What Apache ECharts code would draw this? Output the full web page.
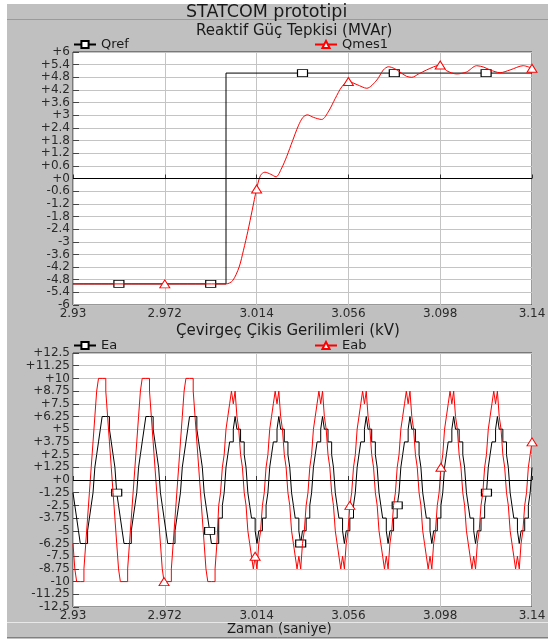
<!DOCTYPE html>
<html><head><meta charset="utf-8">
<script src="https://cdn.jsdelivr.net/npm/echarts@6/dist/echarts.min.js"></script>
<style>html,body{margin:0;padding:0;background:#fff}#c{width:548px;height:639px}</style>
</head><body><div id="c"></div>
<script>
// ---------- data ----------
const xTicks = [2.93, 2.972, 3.014, 3.056, 3.098, 3.14];

// Reaktif Güç Tepkisi (MVAr)
const qrefPoints = [[2.93,-5],[2.951,-5],[2.993,-5],[3.0,-5],[3.0,5],[3.035,5],[3.077,5],[3.119,5],[3.14,5]];
const qrefMarkerTimes = [2.951, 2.993, 3.035, 3.077, 3.119];
const qmesPoints = [
  [2.93,-5],[2.972,-5],[3.0,-5],[3.003,-4.85],[3.006,-4.2],[3.008,-3.4],[3.010,-2.5],[3.012,-1.5],
  [3.014,-0.5],[3.0158,0.15],[3.0178,0.3],[3.0205,0.2],[3.0229,0.08],[3.0255,0.5],[3.0278,1.05],
  [3.0305,1.8],[3.0331,2.5],[3.0352,2.9],[3.0372,3.02],[3.0400,2.9],[3.0438,2.8],[3.0470,3.2],
  [3.0500,3.8],[3.0530,4.35],[3.056,4.6],[3.0600,4.45],[3.0644,4.28],[3.0690,4.67],[3.0720,5.15],
  [3.0743,5.3],[3.0770,5.22],[3.0796,5.05],[3.0825,4.85],[3.0850,4.8],[3.0880,4.95],[3.0918,5.15],
  [3.098,5.38],[3.1010,5.11],[3.1055,4.96],[3.1100,5.05],[3.1147,5.35],[3.1180,5.28],[3.1208,5.15],
  [3.1254,5.02],[3.1300,5.15],[3.1360,5.35],[3.14,5.23]
];
const qmesMarkerTimes = [2.972, 3.014, 3.056, 3.098, 3.14];

// Çevirgeç Çikis Gerilimleri (kV) – staircase samples, 24 per 20 ms cycle starting at 2.93 s
const waveStart = 2.93;
const waveStep = 0.02 / 24;
const eaValues = [
  -1.25,-2.5,-3.75,-5,-6.25,-6.25,-6.25,-6.25,-5,-3.75,-2.5,-1.25,1.25,2.5,3.75,5,6.25,6.25,6.25,6.25,5,3.75,2.5,1.25,
  -1.25,-2.5,-3.75,-5,-6.25,-6.25,-6.25,-6.25,-5,-3.75,-2.5,-1.25,1.25,2.5,3.75,5,6.25,6.25,6.25,6.25,5,3.75,2.5,1.25,
  -1.25,-2.5,-3.75,-5,-6.25,-6.25,-6.25,-6.25,-5,-3.75,-2.5,-1.25,1.25,2.5,3.75,5,6.25,6.25,6.25,6.25,5,3.75,2.5,1.25,
  -1.25,-2.5,-3.75,-5,-6.25,-6.25,-6.25,-6.25,-3.75,-3.75,-2.5,-1.25,1.25,2.5,3.75,3.75,5,6.25,5,5,3.75,3.75,2.5,1.25,
  -1.25,-2.5,-3.75,-3.75,-5,-6.25,-5,-5,-3.75,-3.75,-2.5,-1.25,1.25,2.5,3.75,3.75,5,6.25,5,5,3.75,3.75,2.5,1.25,
  -1.25,-2.5,-3.75,-3.75,-5,-6.25,-5,-5,-3.75,-3.75,-2.5,-1.25,1.25,2.5,3.75,3.75,5,6.25,5,5,3.75,3.75,2.5,1.25,
  -1.25,-2.5,-3.75,-3.75,-5,-6.25,-5,-5,-3.75,-3.75,-2.5,-1.25,1.25,2.5,3.75,3.75,5,6.25,5,5,3.75,3.75,2.5,1.25,
  -1.25,-2.5,-3.75,-3.75,-5,-6.25,-5,-5,-3.75,-3.75,-2.5,-1.25,1.25,2.5,3.75,3.75,5,6.25,5,5,3.75,3.75,2.5,1.25,
  -1.25,-2.5,-3.75,-3.75,-5,-6.25,-5,-5,-3.75,-3.75,-2.5,-1.25,1.25,2.5,3.75,3.75,5,6.25,5,5,3.75,3.75,2.5,1.25,
  -1.25,-2.5,-3.75,-3.75,-5,-6.25,-5,-5,-3.75,-3.75,-2.5,-1.25,1.25,2.5,3.75,3.75,5,6.25,5,5,3.75,3.75,2.5,1.25,
  -1.25,-2.5,-3.75,-3.75,-5,-6.25,-5,-5,-3.75,-3.75,-2.5,-1.25,
  1.25
];
const eabValues = [
  -6.25,-8.75,-10,-10,-10,-10,-8.75,-6.25,-3.75,-1.25,1.25,3.75,6.25,8.75,10,10,10,10,8.75,6.25,3.75,1.25,-1.25,-3.75,
  -6.25,-8.75,-10,-10,-10,-10,-8.75,-6.25,-3.75,-1.25,1.25,3.75,6.25,8.75,10,10,10,10,8.75,6.25,3.75,1.25,-1.25,-3.75,
  -6.25,-8.75,-10,-10,-10,-10,-8.75,-6.25,-3.75,-1.25,1.25,3.75,6.25,8.75,10,10,10,10,8.75,6.25,3.75,1.25,-1.25,-3.75,
  -6.25,-8.75,-10,-10,-10,-10,-8.75,-6.25,-2.5,-1.25,1.25,2.5,5,6.25,7.5,8.75,7.5,8.75,6.25,5,2.5,1.25,-1.25,-2.5,
  -5,-6.25,-7.5,-8.75,-7.5,-8.75,-6.25,-5,-2.5,-1.25,1.25,2.5,5,6.25,7.5,8.75,7.5,8.75,6.25,5,2.5,1.25,-1.25,-2.5,
  -5,-6.25,-7.5,-8.75,-7.5,-8.75,-6.25,-5,-2.5,-1.25,1.25,2.5,5,6.25,7.5,8.75,7.5,8.75,6.25,5,2.5,1.25,-1.25,-2.5,
  -5,-6.25,-7.5,-8.75,-7.5,-8.75,-6.25,-5,-2.5,-1.25,1.25,2.5,5,6.25,7.5,8.75,7.5,8.75,6.25,5,2.5,1.25,-1.25,-2.5,
  -5,-6.25,-7.5,-8.75,-7.5,-8.75,-6.25,-5,-2.5,-1.25,1.25,2.5,5,6.25,7.5,8.75,7.5,8.75,6.25,5,2.5,1.25,-1.25,-2.5,
  -5,-6.25,-7.5,-8.75,-7.5,-8.75,-6.25,-5,-2.5,-1.25,1.25,2.5,5,6.25,7.5,8.75,7.5,8.75,6.25,5,2.5,1.25,-1.25,-2.5,
  -5,-6.25,-7.5,-8.75,-7.5,-8.75,-6.25,-5,-2.5,-1.25,1.25,2.5,5,6.25,7.5,8.75,7.5,8.75,6.25,5,2.5,1.25,-1.25,-2.5,
  -5,-6.25,-7.5,-8.75,-7.5,-8.75,-6.25,-5,-2.5,-1.25,1.25,2.5,
  3.75
];
const eaMarkerIdx = [24, 75, 125, 178, 227];
const eabMarkerIdx = [50, 100, 152, 202, 252];

// ---------- chart ----------
const FONT = 'DejaVu Sans';
const near = (a, b) => Math.abs(a - b) < 1e-9;
function markedPoints(points, markerTimes, sym, size) {
  return points.map(p => markerTimes.some(t => near(t, p[0]))
    ? { value: p, symbol: sym, symbolSize: size }
    : { value: p, symbol: 'none' });
}
function markedWave(values, markerIdx, sym, size) {
  return values.map((v, i) => {
    const p = [waveStart + i * waveStep, v];
    return markerIdx.indexOf(i) >= 0 ? { value: p, symbol: sym, symbolSize: size } : { value: p, symbol: 'none' };
  });
}
const fmtY = v => { const n = Math.round(v * 1000) / 1000; return (n >= 0 ? '+' : '') + String(n); };
const fmtX = v => String(Math.round(v * 1000) / 1000);

function xAxisCfg(gi) {
  return {
    type: 'value', gridIndex: gi, min: 2.93, max: 3.14,
    axisLine: { show: false },
    axisTick: { show: true, inside: true, length: 4, customValues: xTicks, lineStyle: { color: '#333' } },
    axisLabel: { customValues: xTicks, formatter: fmtX, margin: 3, fontFamily: FONT, fontSize: 12, color: '#2a2a2a' },
    splitLine: { show: true, lineStyle: { color: '#c4c4c4', width: 1 } }
  };
}
function yAxisCfg(gi, min, max, interval) {
  return {
    type: 'value', gridIndex: gi, min: min, max: max, interval: interval,
    axisLine: { show: false },
    axisTick: { show: true, inside: true, length: 6, lineStyle: { color: '#444' } },
    axisLabel: { formatter: fmtY, margin: 3, fontFamily: FONT, fontSize: 12, color: '#2a2a2a', showMinLabel: true, showMaxLabel: true },
    splitLine: { show: true, lineStyle: { color: '#c4c4c4', width: 1 } }
  };
}
const zeroLine = { silent: true, symbol: ['none', 'none'], label: { show: false },
  lineStyle: { color: '#000', width: 1, type: 'solid' }, data: [{ yAxis: 0 }] };
const legendBase = { orient: 'horizontal', padding: 0, itemWidth: 22, itemHeight: 9, selectedMode: false,
  textStyle: { fontFamily: FONT, fontSize: 13, color: '#1a1a1a' } };

function txt(text, x, y, size) {
  return { type: 'text', style: { text: text, x: x, y: y, fontFamily: FONT, fontSize: size, fill: '#1a1a1a', verticalAlign: 'middle', align: 'left' } };
}
function lineSeries(name, xi, sym, col, data, extra) {
  return Object.assign({
    name: name, type: 'line', xAxisIndex: xi, yAxisIndex: xi, symbol: sym, showSymbol: true,
    color: col, lineStyle: { color: col, width: 1 },
    itemStyle: { color: '#fff', borderColor: col, borderWidth: 1 },
    emphasis: { disabled: true },
    data: data
  }, extra || {});
}

const option = {
  animation: false,
  backgroundColor: '#c0c0c0',
  grid: [
    { left: 73, top: 52, width: 459, height: 253, show: true, backgroundColor: '#fff', borderColor: '#333', borderWidth: 1, outerBoundsMode: 'none' },
    { left: 73, top: 353, width: 459, height: 254, show: true, backgroundColor: '#fff', borderColor: '#333', borderWidth: 1, outerBoundsMode: 'none' }
  ],
  xAxis: [xAxisCfg(0), xAxisCfg(1)],
  yAxis: [yAxisCfg(0, -6, 6, 0.6), yAxisCfg(1, -12.5, 12.5, 1.25)],
  legend: [
    Object.assign({}, legendBase, { left: 73, top: 38, data: ['Qref'] }),
    Object.assign({}, legendBase, { left: 314, top: 38, data: ['Qmes1'] }),
    Object.assign({}, legendBase, { left: 73, top: 339, data: ['Ea'] }),
    Object.assign({}, legendBase, { left: 314, top: 339, data: ['Eab'] })
  ],
  graphic: [
    { type: 'rect', shape: { x: 0, y: 0, width: 7, height: 639 }, style: { fill: '#fff' }, silent: true },
    { type: 'rect', shape: { x: 0, y: 0, width: 548, height: 4 }, style: { fill: '#fff' }, silent: true },
    { type: 'line', shape: { x1: 7, y1: 19.5, x2: 548, y2: 19.5 }, style: { stroke: '#9a9a9a', lineWidth: 1 }, silent: true },
    { type: 'line', shape: { x1: 7, y1: 622.5, x2: 548, y2: 622.5 }, style: { stroke: '#e8e8e8', lineWidth: 1 }, silent: true },
    { type: 'line', shape: { x1: 7, y1: 637.5, x2: 548, y2: 637.5 }, style: { stroke: '#808080', lineWidth: 1 }, silent: true },
    txt('STATCOM prototipi', 186, 12, 17.5),
    txt('Reaktif Güç Tepkisi (MVAr)', 196, 31, 15),
    txt('Çevirgeç Çikis Gerilimleri (kV)', 176, 331, 15),
    txt('Zaman (saniye)', 227, 630, 13.3)
  ],
  series: [
    lineSeries('Qref', 0, 'rect', '#000', markedPoints(qrefPoints, qrefMarkerTimes, 'rect', [10, 7]), { markLine: zeroLine, z: 3 }),
    lineSeries('Qmes1', 0, 'triangle', '#ff0000', markedPoints(qmesPoints, qmesMarkerTimes, 'triangle', [10, 8]), { smooth: 0.3, z: 4 }),
    lineSeries('Ea', 1, 'rect', '#000', markedWave(eaValues, eaMarkerIdx, 'rect', [10, 7]), { step: 'end', markLine: zeroLine, z: 3 }),
    lineSeries('Eab', 1, 'triangle', '#ff0000', markedWave(eabValues, eabMarkerIdx, 'triangle', [10, 8]), { step: 'end', z: 4 })
  ]
};
const chart = echarts.init(document.getElementById('c'), null, { renderer: 'canvas' });
chart.setOption(option);
</script></body></html>
